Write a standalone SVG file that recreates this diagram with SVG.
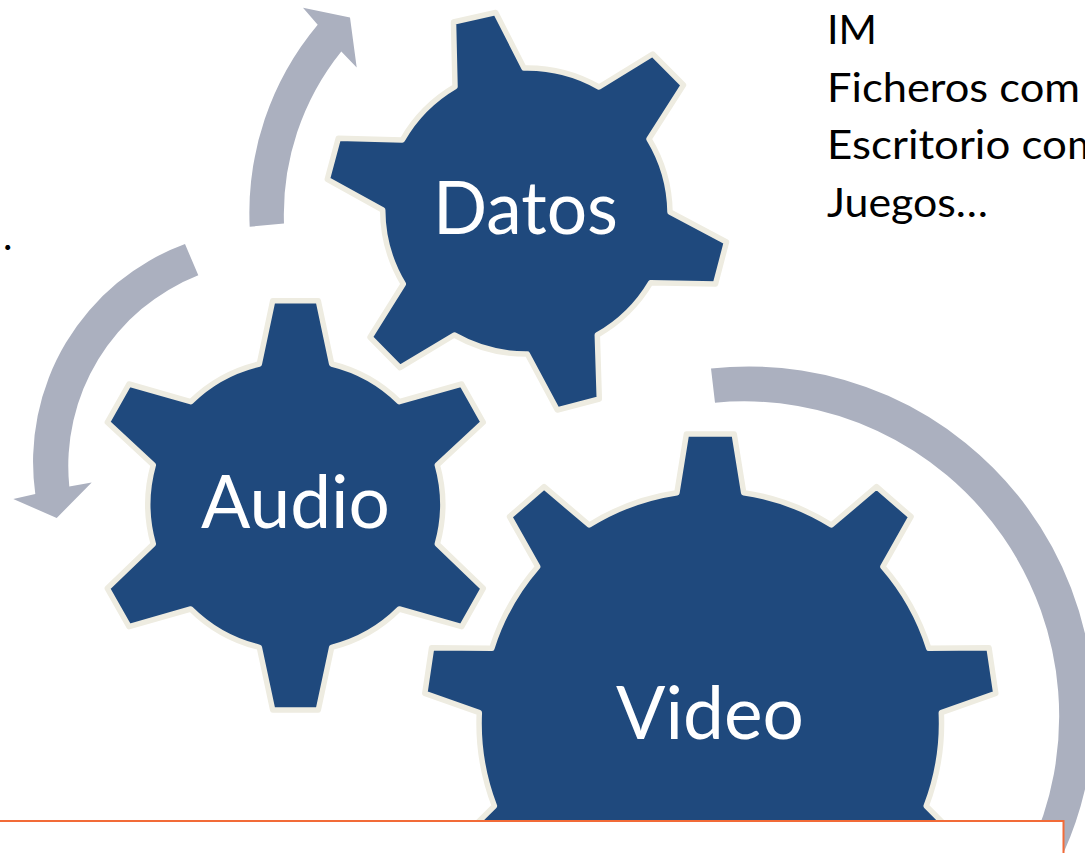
<svg xmlns="http://www.w3.org/2000/svg" width="1085" height="853" viewBox="0 0 1085 853">
<style>
.gear{fill:#1F497D;stroke:#EEECE1;stroke-width:5.5;stroke-linejoin:round}
.arrow{fill:#ABB0BF}
.label{font-family:"Lato","Open Sans",sans-serif;fill:#fff;font-size:73px}
.note{font-family:"Lato","Open Sans",sans-serif;fill:#000;font-size:40px}
</style>
<rect width="1085" height="853" fill="#fff"/>
<g id="connectors">
<path class="arrow" d="M249.7 226.7A293 293 0 0 1 317.7 24.7L303 7.8L350 17.6L356.7 67.6L341.3 51.4A260 260 0 0 0 284 223.6Z"/>
<path class="arrow" d="M185 244A232 232 0 0 0 35.3 494L13.3 499L56.7 518L91.7 482.4L69.3 486.5A205 205 0 0 1 198.3 275.3Z"/>
<path class="arrow" d="M711 368.5A345 345 0 0 1 1063.5 853L1028 853A315 315 0 0 0 715 402.7Z"/>
</g>
<g id="gear-datos">
<path class="gear" d="M453.5 22L495.7 12.5L524 68A145 145 0 0 1 599 87L652.7 54L683.5 85L649 139A145 145 0 0 1 670 212L726.5 242L715.5 284L650.7 282.7A145 145 0 0 1 597.3 335L599.3 399L557.3 410L527.3 354A145 145 0 0 1 454.3 335L400 367.7L370 337.3L403.3 284A145 145 0 0 1 382.7 210L327.3 179.3L338.3 138.3L402.3 140A145 145 0 0 1 455 86.7Z"/>
<text class="label" x="525.5" y="234" text-anchor="middle" textLength="185" lengthAdjust="spacingAndGlyphs">Datos</text>
</g>
<g id="gear-audio">
<path class="gear" d="M272.7 300.7L318.3 300.7L331.7 364A145.6 145.6 0 0 1 399.3 401.7L461.7 384L483.3 422.3L437.3 465A145.6 145.6 0 0 1 437.3 544L483.3 588.3L461.7 626.7L399.3 609A145.6 145.6 0 0 1 331.7 647.3L318.3 710L272.7 710L259.3 647.3A145.6 145.6 0 0 1 190.7 609L129 626.7L107.3 588.3L153.3 544A145.6 145.6 0 0 1 153.3 465L107.3 422.3L129 384L190.7 401.7A145.6 145.6 0 0 1 259.3 364Z"/>
<text class="label" x="295.5" y="528" text-anchor="middle" textLength="189" lengthAdjust="spacingAndGlyphs">Audio</text>
</g>
<g id="gear-video">
<path class="gear" d="M686.4 434L734.2 434L743.7 492.7A231 231 0 0 1 831.4 525L876.5 486.7L911.1 516.7L882.9 566.7A231 231 0 0 1 928.8 648.3L989 647.7L995.8 693.3L941.3 712.7A231 231 0 0 1 926.2 806L960 840L460 840L494.4 806A231 231 0 0 1 479.3 712.7L424.8 693.3L431.6 647.7L491.8 648.3A231 231 0 0 1 537.7 566.7L509.5 516.7L544.1 486.7L589.2 525A231 231 0 0 1 676.9 492.7Z"/>
<text class="label" x="710" y="739" text-anchor="middle">Video</text>
</g>
<path d="M-5 821H1063.5V858H-5Z" fill="#fff" stroke="#F26B38" stroke-width="2"/>
<text class="note" x="827" y="43.5" textLength="50" lengthAdjust="spacingAndGlyphs">IM</text>
<text class="note" x="827" y="101.5" textLength="253" lengthAdjust="spacingAndGlyphs">Ficheros com</text>
<text class="note" x="827" y="159" textLength="276" lengthAdjust="spacingAndGlyphs">Escritorio com</text>
<text class="note" x="827" y="216.5" textLength="161" lengthAdjust="spacingAndGlyphs">Juegos…</text>
<text class="note" x="3" y="250">.</text>
</svg>
